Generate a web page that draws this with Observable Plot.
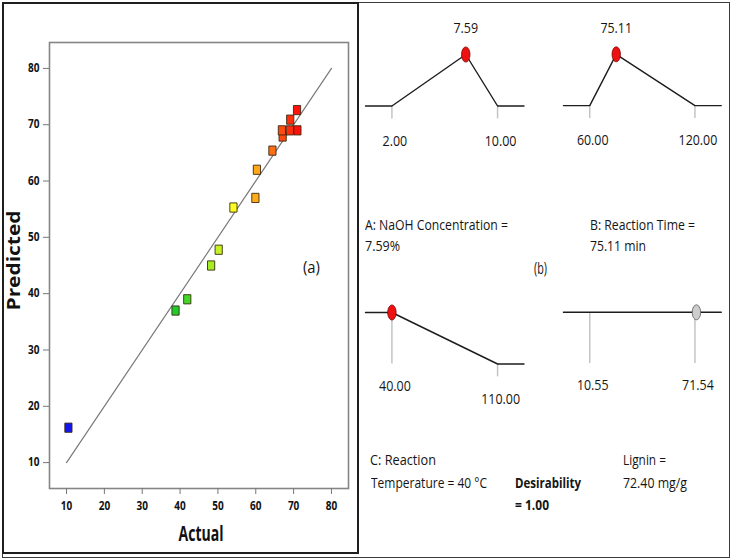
<!DOCTYPE html>
<html><head><meta charset="utf-8">
<script src="https://cdn.jsdelivr.net/npm/d3@7"></script>
<script src="https://cdn.jsdelivr.net/npm/@observablehq/plot@0.6"></script>
<style>
body{margin:0;background:#fff;}
#fig{position:relative;width:731px;height:559px;overflow:hidden;background:#fff;font-family:"Open Sans",sans-serif;}
.abs{position:absolute;}
.note{position:absolute;white-space:nowrap;line-height:1;color:#151515;transform-origin:0 0;}
.box{position:absolute;pointer-events:none;box-sizing:border-box;}
</style></head><body><div id="fig"></div>
<script>
// ---------- data ----------
const actual    = [10.5, 38.8, 41.9, 48.2, 50.2, 54.1, 59.9, 60.3, 64.4, 67.1, 66.9, 69.0, 71.0, 69.1, 70.9];
const predicted = [16.2, 37.0, 39.0, 45.0, 47.8, 55.3, 57.0, 62.0, 65.4, 67.9, 69.0, 69.0, 69.0, 70.9, 72.6];
const xTicks = [10, 20, 30, 40, 50, 60, 70, 80];
const yTicks = [10, 20, 30, 40, 50, 60, 70, 80];
const fitLine = [10, 80]; // predicted = actual reference line

const rampFactor    = ["A", "B", "C", "Lignin"];
const rampLow       = [2, 60, 40, 10.55];
const rampHigh      = [10, 120, 110, 71.54];
const rampValue     = [7.59, 75.11, 40, 72.40];
const rampLevelLow  = [0, 0, 1, 1];
const rampLevelHigh = [0, 0, 0, 1];
const rampShowValue = [true, true, false, false];

const noteTexts = ["(a)", "A: NaOH Concentration =", "7.59%", "B: Reaction Time =", "75.11 min", "(b)",
  "C: Reaction", "Temperature = 40 °C", "Desirability", "= 1.00", "Lignin =", "72.40 mg/g"];

// ---------- layout / style ----------
const fig = document.getElementById("fig");
function place(el, left, top, z) {
  const d = document.createElement("div");
  d.className = "abs"; d.style.left = left + "px"; d.style.top = top + "px";
  if (z) d.style.zIndex = z;
  d.appendChild(el); fig.appendChild(d); return d;
}
function squeeze(svg, factor, targets) {
  svg.querySelectorAll("text").forEach(t => {
    const s = t.textContent.trim();
    if (!s) return;
    const L = t.getComputedTextLength();
    const want = targets && targets[s] != null ? targets[s] : L * factor;
    t.setAttribute("textLength", want);
    t.setAttribute("lengthAdjust", "spacingAndGlyphs");
  });
}

// ---------- left panel: predicted vs actual ----------
const pts = actual.map((a, i) => ({actual: a, predicted: predicted[i]}));
const rectSym = {draw(ctx) { ctx.rect(-3.6, -4.6, 7.2, 9.2); }};
const left = Plot.plot({
  width: 360, height: 553,
  marginLeft: 49, marginRight: 12, marginTop: 42, marginBottom: 65,
  style: {fontFamily: "Open Sans", fontSize: "11.5px", fontWeight: "bold", color: "#111", background: "transparent"},
  x: {domain: [5.5, 84.5]},
  y: {domain: [5.4, 84.6]},
  color: {type: "linear", domain: [10.5, 40, 54, 71.5], range: ["#1414f0", "#22d422", "#ffff22", "#ff0a0a"], interpolate: "rgb"},
  marks: [
    Plot.frame({stroke: "#858585", strokeWidth: 1.6}),
    Plot.axisX({ticks: xTicks, tickSize: 6, tickPadding: 7, stroke: "#777", label: null}),
    Plot.axisY({ticks: yTicks, tickSize: 6, tickPadding: 4, stroke: "#777", label: null}),
    Plot.line(fitLine.map(v => ({a: v, p: v})), {x: "a", y: "p", stroke: "#7a7a7a", strokeWidth: 1.2}),
    Plot.dot(pts, {x: "actual", y: "predicted", fill: "actual", stroke: "#3b2a12", strokeWidth: 0.9, symbol: rectSym}),
    Plot.text(["Actual"], {text: d => d, frameAnchor: "bottom", dy: 45, dx: 2, fontSize: 22, fontWeight: "bold", textAnchor: "middle", lineAnchor: "middle"}),
    Plot.text(["Predicted"], {text: d => d, frameAnchor: "left", dx: -35, dy: -5, rotate: -90, fontSize: 17, fontWeight: "bold", textAnchor: "middle", lineAnchor: "middle"})
  ]
});
place(left, 0, 0);
squeeze(left, 0.87, {"Actual": 45, "Predicted": 100});

// ---------- right panel: desirability ramps ----------
const fmt = d3.format(".2f");
const ellipseSym = {draw(ctx) {
  const rx = 4.2, ry = 7.5, k = 0.5523;
  ctx.moveTo(rx, 0);
  ctx.bezierCurveTo(rx, ry * k, rx * k, ry, 0, ry);
  ctx.bezierCurveTo(-rx * k, ry, -rx, ry * k, -rx, 0);
  ctx.bezierCurveTo(-rx, -ry * k, -rx * k, -ry, 0, -ry);
  ctx.bezierCurveTo(rx * k, -ry, rx, -ry * k, rx, 0);
  ctx.closePath();
}};
const rampLeft = [365, 563.3, 365, 563.3];
const rampTop  = [54.3, 54.3, 311.7, 311.7];
const rampFrameW = 158.5, rampFrameH = 51.5, rampM = 10, rampMT = 40, rampH = 150;

rampFactor.forEach((name, i) => {
  const lo = rampLow[i], hi = rampHigh[i], v = rampValue[i];
  const pad = (hi - lo) * 0.25;
  const x0 = lo - pad, x1 = hi + pad;
  const path = [[x0, rampLevelLow[i]], [lo, rampLevelLow[i]], [v, 1], [hi, rampLevelHigh[i]], [x1, rampLevelHigh[i]]]
    .sort((a, b) => a[0] - b[0]);
  const ticks = [{x: lo, d: rampLevelLow[i]}, {x: hi, d: rampLevelHigh[i]}]
    .map(t => ({...t, end: t.d === 0 ? -0.25 : 0, label: fmt(t.x)}));
  const marks = [
    Plot.ruleX(ticks, {x: "x", y1: "d", y2: "end", stroke: "#c4c4c4", strokeWidth: 1.5}),
    Plot.line(path, {x: d => d[0], y: d => d[1], stroke: "#1c1c1c", strokeWidth: 1.4}),
    Plot.dot([v], {x: d => d, y: () => 1, symbol: ellipseSym, fill: i === 3 ? "#cdcdcd" : "#ee1111", stroke: i === 3 ? "#555" : "#7a0000", strokeWidth: 0.8}),
    Plot.text(ticks, {x: "x", y: "end", text: "label", dy: 22, dx: 3, fontSize: 14.5, fill: "#151515"})
  ];
  if (rampShowValue[i]) marks.push(Plot.text([v], {x: d => d, y: () => 1, text: d => fmt(d), dy: -26, fontSize: 14.5, fill: "#151515"}));
  const p = Plot.plot({
    width: rampFrameW + 2 * rampM, height: rampH,
    marginLeft: rampM, marginRight: rampM, marginTop: rampMT, marginBottom: rampH - rampMT - rampFrameH,
    style: {fontFamily: "Open Sans", background: "transparent", overflow: "visible"},
    x: {domain: [x0, x1], axis: null},
    y: {domain: [0, 1], axis: null},
    marks
  });
  place(p, rampLeft[i] - rampM, rampTop[i] - rampMT);
  squeeze(p, 0.86);
});

// ---------- annotation text ----------
const noteLeft     = [303, 365, 365, 590, 590, 534, 370, 371, 515, 515, 623, 623];
const noteBaseline = [273, 230, 251.5, 230, 251.5, 274, 465.7, 488.3, 488, 510.7, 465.7, 488];
const noteWidth    = [17, 143, 35, 105, 56, 13, 66, 116, 66, 34, 43, 64];
const noteSize     = [17, 15, 15, 15, 15, 17, 15, 15, 15, 15, 15, 15];
const noteBold     = [false, false, false, false, false, false, false, false, true, true, false, false];
noteTexts.forEach((s, i) => {
  const d = document.createElement("div");
  d.className = "note";
  d.textContent = s;
  d.style.fontSize = noteSize[i] + "px";
  d.style.fontWeight = noteBold[i] ? "bold" : "normal";
  d.style.left = noteLeft[i] + "px";
  d.style.top = (noteBaseline[i] - 0.888 * noteSize[i]) + "px";
  fig.appendChild(d);
  const w = d.getBoundingClientRect().width;
  d.style.transform = `scaleX(${noteWidth[i] / w})`;
});

// ---------- panel borders ----------
function box(l, t, w, h, bw, c) {
  const b = document.createElement("div");
  b.className = "box";
  Object.assign(b.style, {left: l + "px", top: t + "px", width: w + "px", height: h + "px", border: `${bw}px solid ${c}`, zIndex: 5});
  fig.appendChild(b);
}
box(2, 2, 728, 555.5, 1.5, "#3a3a3a");
box(2, 2, 357, 552, 2, "#1e1e1e");
</script></body></html>
